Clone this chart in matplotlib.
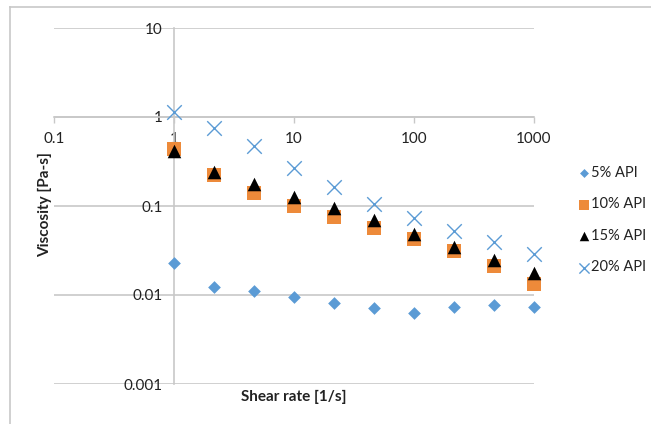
import matplotlib.pyplot as plt
from matplotlib.lines import Line2D
from matplotlib.ticker import FixedLocator, FuncFormatter, NullLocator

# =========================
# Data
# =========================
shear_rate = [1, 2.15, 4.64, 10, 21.5, 46.4, 100, 215, 464, 1000]

api_5 = [0.0229, 0.0123, 0.0111, 0.0095, 0.0081, 0.0071, 0.0063, 0.0073, 0.0077, 0.0073]
api_10 = [0.437, 0.223, 0.140, 0.100, 0.076, 0.0566, 0.0426, 0.031, 0.0213, 0.0133]
api_15 = [0.41, 0.243, 0.176, 0.126, 0.095, 0.0697, 0.049, 0.0347, 0.025, 0.0177]
api_20 = [1.15, 0.76, 0.47, 0.27, 0.165, 0.105, 0.073, 0.052, 0.0397, 0.029]

x_ticks = [0.1, 1, 10, 100, 1000]
y_ticks = [0.001, 0.01, 0.1, 1, 10]

plt.rcParams['font.family'] = ['Lato', 'DejaVu Sans']

W, H = 651, 424
fig = plt.figure(figsize=(W / 100, H / 100), dpi=100)

# outer chart frame (Excel style)
fig.add_artist(Line2D([10 / W, 1], [1 - 7 / H, 1 - 7 / H], color='#c8c8c8', lw=1.2))
fig.add_artist(Line2D([10 / W, 10 / W], [0, 1 - 7 / H], color='#c8c8c8', lw=1.2))

ax = fig.add_axes([54 / W, 1 - 384 / H, 480 / W, 356 / H])
ax.set_xscale('log')
ax.set_yscale('log')
ax.set_xlim(0.1, 1000)
ax.set_ylim(0.001, 10)

blue = '#5B9BD5'
orange = '#ED8A3A'

ax.scatter(shear_rate, api_5, marker='D', s=42, color=blue, lw=0, label='5% API', zorder=3, clip_on=False)
ax.scatter(shear_rate, api_10, marker='s', s=110, color=orange, lw=0, label='10% API', zorder=3, clip_on=False)
ax.scatter(shear_rate, api_15, marker='^', s=95, color='black', lw=0, label='15% API', zorder=4, clip_on=False)
ax.scatter(shear_rate, api_20, marker='x', s=110, color=blue, lw=1.0, label='20% API', zorder=3, clip_on=False)

# axes cross at (1, 1)
for s in ['top', 'right']:
    ax.spines[s].set_visible(False)
ax.spines['left'].set_position(('data', 1))
ax.spines['bottom'].set_position(('data', 1))
ax.spines['left'].set_color('#c8c8c8')
ax.spines['bottom'].set_color('#c8c8c8')
ax.spines['left'].set_linewidth(1.2)
ax.spines['bottom'].set_linewidth(1.2)

fmt = FuncFormatter(lambda v, p: '{:g}'.format(v))
ax.xaxis.set_major_locator(FixedLocator(x_ticks))
ax.yaxis.set_major_locator(FixedLocator(y_ticks))
ax.xaxis.set_minor_locator(NullLocator())
ax.yaxis.set_minor_locator(NullLocator())
ax.xaxis.set_major_formatter(fmt)
ax.yaxis.set_major_formatter(fmt)
ax.tick_params(axis='x', direction='out', length=4, width=1, color='#c8c8c8',
               labelsize=11, labelcolor='#222222', pad=7)
ax.tick_params(axis='y', length=0, labelsize=11, labelcolor='#222222', pad=8)

ax.yaxis.grid(True, color='#c8c8c8', lw=1.2)
ax.set_axisbelow(True)

fig.text(294 / W, 1 - 397 / H, 'Shear rate [1/s]', ha='center', va='center',
         fontsize=11, fontweight='bold', color='#222222')
fig.text(45 / W, 1 - 205 / H, 'Viscosity [Pa-s]', ha='center', va='center',
         rotation=90, fontsize=11, fontweight='bold', color='#222222')

ax.legend(loc='upper left', bbox_to_anchor=(572 / W, 1 - 160 / H),
          bbox_transform=fig.transFigure, frameon=False, fontsize=10.5,
          handletextpad=0.0, labelspacing=1.2, handlelength=0.9,
          borderaxespad=0, labelcolor='#222222', scatterpoints=1,
          markerscale=0.7)

plt.savefig('out.png', dpi=100)
